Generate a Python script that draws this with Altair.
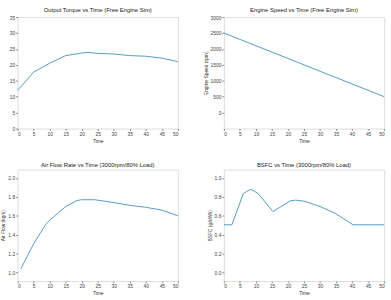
import altair as alt
import pandas as pd

# Panel 1: output torque
t1 = [0, 5, 10, 15, 20, 22, 25, 30, 35, 40, 45, 50]
v1 = [12.0, 17.7, 20.5, 22.9, 23.7, 23.9, 23.6, 23.4, 22.9, 22.7, 22.1, 21.0]
# Panel 2: engine speed
t2 = [0, 50]
v2 = [2500, 500]
# Panel 3: air flow
t3 = [1.0, 5.1, 8.7, 9.9, 15.1, 18.4, 19.9, 24.0, 30.0, 35.0, 40.0, 45.0, 50.0]
v3 = [1.04, 1.31, 1.505, 1.55, 1.70, 1.76, 1.77, 1.77, 1.74, 1.71, 1.69, 1.66, 1.60]
# Panel 4: BSFC
t4 = [0, 2.5, 6.1, 8.4, 10.7, 15.3, 20.9, 22.4, 25.0, 30.1, 34.7, 40.3, 45.0, 50.0]
v4 = [0.505, 0.505, 0.836, 0.88, 0.836, 0.645, 0.76, 0.765, 0.755, 0.697, 0.627, 0.505, 0.505, 0.505]

titles = [
    "Output Torque vs Time (Free Engine Sim)",
    "Engine Speed vs Time (Free Engine Sim)",
    "Air Flow Rate vs Time (3000rpm/80% Load)",
    "BSFC vs Time (3000rpm/80% Load)",
]
ytitles = [None, "Engine Speed (rpm)", "Air Flow (kg/s)", "BSFC (g/kWh)"]
xticks = list(range(0, 55, 5))

LINE = "#3f8fc0"
W, H = 164, 114


def panel(t, v, title, ytitle, ydomain, yticks, fmt):
    df = pd.DataFrame({"t": t, "v": v})
    yaxis = dict(values=yticks, format=fmt, labelFontSize=5, tickSize=2,
                 labelPadding=1, grid=False, domain=False, tickColor="#888",
                 labelColor="#444", titleFontSize=5, titleFontWeight="normal",
                 titleColor="#333", titlePadding=2)
    yaxis["title"] = ytitle if ytitle is not None else ""
    return alt.Chart(df, title=alt.TitleParams(title, fontSize=6, fontWeight="normal",
                                               color="#222", offset=2,
                                               font="Liberation Sans")).mark_line(
        color=LINE, strokeWidth=0.9
    ).encode(
        x=alt.X("t:Q", scale=alt.Scale(domain=[0, 50], nice=False),
                axis=alt.Axis(values=xticks, title="Time", labelFontSize=5, tickSize=2,
                              labelPadding=1, grid=False, domain=False, tickColor="#888",
                              labelColor="#444", titleFontSize=5,
                              titleFontWeight="normal", titleColor="#333",
                              titlePadding=2)),
        y=alt.Y("v:Q", scale=alt.Scale(domain=ydomain, nice=False, zero=False),
                axis=alt.Axis(**yaxis)),
    ).properties(width=W, height=H)


p1 = panel(t1, v1, titles[0], ytitles[0], [0, 35], list(range(0, 40, 5)), "d")
p2 = panel(t2, v2, titles[1], ytitles[1], [-500, 3000], list(range(0, 3500, 500)), "d")
p3 = panel(t3, v3, titles[2], ytitles[2], [0.912, 2.088], [1.0, 1.2, 1.4, 1.6, 1.8, 2.0], ".1f")
p4 = panel(t4, v4, titles[3], ytitles[3], [-0.088, 1.088], [0, 0.2, 0.4, 0.6, 0.8, 1.0], ".1f")

chart = alt.concat(p1, p2, p3, p4, columns=2, spacing={"row": 17, "column": 22}).properties(
    padding={"left": 0, "top": 3, "right": 4, "bottom": 2}
).configure_view(stroke="#999", strokeWidth=0.8).configure(
    font="Liberation Sans", background="white"
)

chart.save("out.html", embed_options={"renderer": "svg", "actions": False})
